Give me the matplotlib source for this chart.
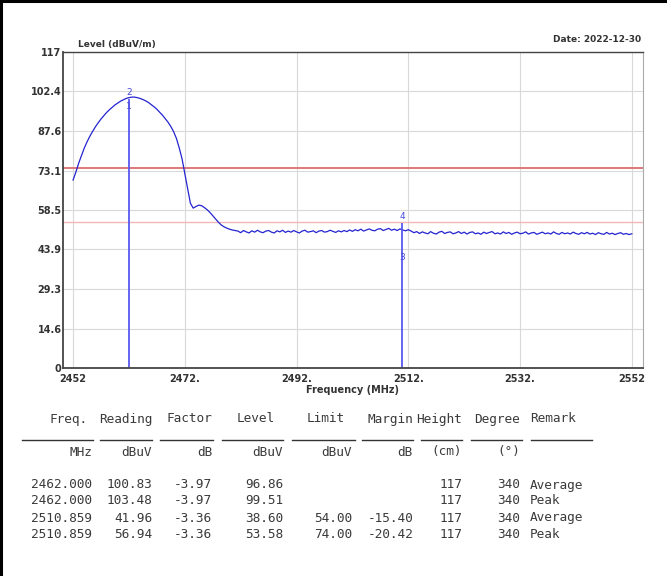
import numpy as np
import matplotlib
matplotlib.use('Agg')
import matplotlib.pyplot as plt
from matplotlib.lines import Line2D

# trace, 0.5 MHz steps from 2452 to 2552
level_rise = [69.6, 72.5, 75.8, 78.6, 81.4, 83.7, 85.8, 87.6, 89.3, 90.8,
              92.2, 93.4, 94.6, 95.6, 96.5, 97.4, 98.1, 98.8, 99.3, 99.8,
              100.1, 100.3, 100.3, 100.1, 99.8, 99.4, 98.9, 98.3, 97.5, 96.7,
              95.8, 94.7, 93.6, 92.3, 91.0, 89.4, 87.5, 85.0, 81.5, 77.5,
              72.0, 66.5, 61.0, 59.2, 59.8, 60.3, 60.1, 59.4, 58.6, 57.6,
              56.4, 55.2, 54.0, 53.0, 52.3, 51.8, 51.4, 51.1, 50.9]
level_floor1 = [50.7, 50.1, 50.9, 50.4, 50.0, 50.8, 50.3, 51.0, 50.4, 50.1,
                50.7, 50.9, 50.3, 50.0, 50.8, 50.4, 51.0, 50.2, 50.7, 50.3,
                50.9, 50.4, 50.0, 50.7, 51.0, 50.3, 50.5, 50.8, 50.1, 50.7,
                50.9, 50.3, 50.5, 51.0, 50.6, 50.2, 50.8, 50.4]
level_floor2 = [50.9, 50.5, 51.1, 50.6, 51.2, 50.8, 51.4, 50.7, 51.1, 51.5,
                51.0, 50.8, 51.4, 51.6, 50.9, 51.3, 51.7, 51.0, 51.4, 50.9,
                51.5, 51.1, 50.8, 51.2]
level_floor3 = [50.7, 50.1, 50.5, 49.8, 50.4, 50.0, 49.7, 50.5, 49.9, 49.6,
                50.3, 50.6, 49.8, 50.2, 50.4, 49.7, 50.0, 50.5, 49.8, 50.3,
                49.6, 50.2, 50.4, 49.7, 50.0, 49.5, 50.3, 49.8, 50.2, 50.5,
                49.7, 50.0, 49.6, 50.4, 49.8, 50.2, 49.5, 50.0, 50.3, 49.7,
                49.9, 50.4, 49.6, 50.0, 50.2, 49.5, 49.9, 50.3, 49.7, 50.0,
                49.6, 50.4, 49.8, 49.5, 50.2, 49.7, 50.0, 49.6, 50.3, 49.8,
                49.5, 50.1, 49.7, 50.2, 49.6, 49.9, 49.4, 50.1, 49.7, 49.5,
                50.2, 49.6, 49.9, 49.4, 49.8, 50.1, 49.5, 49.8, 49.4, 49.7]
level = level_rise + level_floor1 + level_floor2 + level_floor3
freq = np.linspace(2452, 2552, len(level))

limit_peak = 74.0
limit_avg = 54.0

x_ticks = [2452, 2472, 2492, 2512, 2532, 2552]
x_labels = ['2452', '2472.', '2492.', '2512.', '2532.', '2552']
y_ticks = [0, 14.6, 29.3, 43.9, 58.5, 73.1, 87.6, 102.4, 117]
y_labels = ['0', '14.6', '29.3', '43.9', '58.5', '73.1', '87.6', '102.4', '117']

# markers: (number, freq, level)
mark_no = ['1', '2', '3', '4']
mark_freq = [2462.000, 2462.000, 2510.859, 2510.859]
mark_level = [96.86, 99.51, 38.60, 53.58]

# result table
headers = ['Freq.', 'Reading', 'Factor', 'Level', 'Limit', 'Margin', 'Height', 'Degree', 'Remark']
units = ['MHz', 'dBuV', 'dB', 'dBuV', 'dBuV', 'dB', '(cm)', '(\u00b0)', '']
t_freq = ['2462.000', '2462.000', '2510.859', '2510.859']
t_reading = ['100.83', '103.48', '41.96', '56.94']
t_factor = ['-3.97', '-3.97', '-3.36', '-3.36']
t_level = ['96.86', '99.51', '38.60', '53.58']
t_limit = ['', '', '54.00', '74.00']
t_margin = ['', '', '-15.40', '-20.42']
t_height = ['117', '117', '117', '117']
t_degree = ['340', '340', '340', '340']
t_remark = ['Average', 'Peak', 'Average', 'Peak']

W, H = 667, 576
fig = plt.figure(figsize=(W / 100, H / 100), dpi=100)
fig.patch.set_facecolor('white')


def fx(px):
  return px / W


def fy(py):
  return 1 - py / H


ax = fig.add_axes([fx(63), fy(368), fx(643) - fx(63), fy(52) - fy(368)])
ax.set_xlim(2450.2, 2554.0)
ax.set_ylim(0, 117)

ax.set_xticks(x_ticks)
ax.set_xticklabels(x_labels)
ax.set_yticks(y_ticks)
ax.set_yticklabels(y_labels)
ax.tick_params(length=0, labelsize=7, labelcolor='#333333')
ax.tick_params(axis='x', pad=4)
ax.tick_params(axis='y', pad=1)
for lab in ax.get_xticklabels() + ax.get_yticklabels():
  lab.set_fontweight('bold')
ax.grid(True, color='#d9d9d9', linewidth=0.8)
ax.set_axisbelow(True)
for s in ['left', 'bottom', 'top']:
  ax.spines[s].set_color('#444444')
ax.spines['left'].set_linewidth(1.3)
ax.spines['bottom'].set_linewidth(1.3)
ax.spines['top'].set_linewidth(1.0)
ax.spines['right'].set_color('#aaaaaa')

ax.axhline(limit_peak, color='#e07878', linewidth=1.4)
ax.axhline(limit_avg, color='#f2b8b8', linewidth=1.0)

ax.plot(freq, level, color='#2424d0', linewidth=0.9)

# marker lines and numbers
ax.vlines(mark_freq[1], 0, mark_level[1], color='#5858f0', linewidth=1.3)
ax.vlines(mark_freq[3], 0, mark_level[3], color='#5858f0', linewidth=1.3)
for n, f, v in zip(mark_no, mark_freq, mark_level):
  if n == '1':
    ax.text(f, v, n, color='#4848e0', fontsize=6.5, ha='center', va='center')
  else:
    ax.text(f, v + 0.8, n, color='#4848e0', fontsize=6.5, ha='center', va='bottom')

ax.set_xlabel('Frequency (MHz)', fontsize=7, fontweight='bold', color='#333333', labelpad=1)
fig.text(fx(78), fy(44), 'Level (dBuV/m)', fontsize=6.5, fontweight='bold', color='#333333', va='center')
fig.text(fx(641), fy(40), 'Date: 2022-12-30', fontsize=6.5, fontweight='bold', color='#333333', va='center', ha='right')

# table
mono = dict(family='DejaVu Sans Mono', fontsize=9.2, color='#3a3a3a', va='center')
col_right = [92, 152, 212, 283, 352, 413, 462, 520]
head_right = [88, 152, 212, 275, 345, 413, 462, 520]
remark_left = 530

for h, r in zip(headers[:-1], head_right):
  fig.text(fx(r), fy(419), h, ha='right', **mono)
fig.text(fx(remark_left), fy(419), headers[-1], ha='left', **mono)

seg = [(22, 93), (100, 152), (160, 213), (222, 283), (292, 355), (362, 413), (421, 462), (471, 522), (531, 592)]
for a, b in seg:
  fig.add_artist(Line2D([fx(a), fx(b)], [fy(440), fy(440)], color='#333333', linewidth=1.0))

for u, r in zip(units[:-1], col_right):
  fig.text(fx(r), fy(452), u, ha='right', **mono)

cols = [t_freq, t_reading, t_factor, t_level, t_limit, t_margin, t_height, t_degree]
row_y = [485, 501, 518, 534]
for i, yy in enumerate(row_y):
  for c, r in zip(cols, col_right):
    if c[i]:
      fig.text(fx(r), fy(yy), c[i], ha='right', **mono)
  fig.text(fx(remark_left), fy(yy), t_remark[i], ha='left', **mono)

# frame of the picture (top and left edges)
fig.add_artist(Line2D([0, 1], [fy(1), fy(1)], color='black', linewidth=2.2))
fig.add_artist(Line2D([fx(1), fx(1)], [0, 1], color='black', linewidth=2.2))

fig.savefig('out.png', dpi=100, facecolor='white')
